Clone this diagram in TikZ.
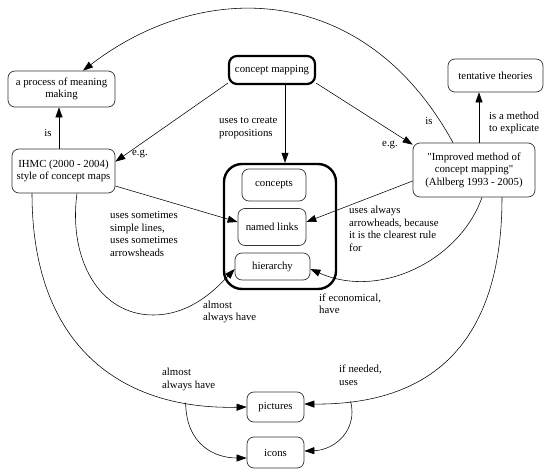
\documentclass[tikz,border=0pt]{standalone}
\usepackage{fontspec}
\setmainfont{Liberation Serif}
\newfontfamily\plainq{Liberation Serif}
\usetikzlibrary{arrows.meta}
\begin{document}
\begin{tikzpicture}[x=1pt,y=-1pt,
  every node/.style={font=\fontsize{10.8}{12.5}\selectfont, inner sep=0pt},
  box/.style={draw=black!80, line width=0.7pt, rounded corners=7pt, align=center},
  thickbox/.style={draw=black, line width=2.2pt, rounded corners=8pt, align=center},
  lab/.style={align=left, anchor=west},
  arr/.style={draw=black, line width=0.55pt, -{Triangle[length=10pt,width=7pt]}},
  con/.style={draw=black, line width=0.55pt}]
\useasboundingbox (0,0) rectangle (552,476);
% nodes
\node[box, minimum width=107pt, minimum height=36pt] (proc) at (61.5,89) {a process of meaning\\making};
\node[thickbox, minimum width=86pt, minimum height=28pt] (cm) at (272,70) {concept mapping};
\node[box, minimum width=95pt, minimum height=33pt] (tent) at (495.5,75.5) {tentative theories};
\node[box, minimum width=103pt, minimum height=44pt] (ihmc) at (63.5,171) {IHMC (2000 - 2004)\\style of concept maps};
\node[box, minimum width=122pt, minimum height=54pt] (imp) at (474,170) {{\plainq"}Improved method of\\concept mapping{\plainq"}\\(Ahlberg 1993 - 2005)};
\node[draw=black, line width=2.4pt, rounded corners=18pt, minimum width=112pt, minimum height=125pt] (cont) at (280,226.5) {};
\node[box, minimum width=64pt, minimum height=32pt] (conc) at (274,185) {concepts};
\node[box, minimum width=68pt, minimum height=37pt] (nl) at (272,227) {named links};
\node[box, minimum width=75pt, minimum height=27pt] (hier) at (272.5,266.5) {hierarchy};
\node[box, minimum width=57pt, minimum height=30pt] (pic) at (275.5,407) {pictures};
\node[box, minimum width=57pt, minimum height=31pt] (icons) at (275.5,452.5) {icons};
% connectors
\draw[arr] ([xshift=13pt]cm.south) -- ([xshift=5pt]cont.north);
\draw[arr] ([yshift=2pt]cm.south west) -- ([yshift=-13pt]ihmc.north east);
\draw[arr] ([yshift=2pt]cm.south east) -- ([yshift=-2pt]imp.north west);
\draw[arr] ([xshift=-4.5pt]ihmc.north) -- ([xshift=-2.5pt]proc.south);
\draw[arr] ([xshift=5pt]imp.north) -- ([xshift=-16.5pt]tent.south);
\draw[arr] ([xshift=-21pt]imp.north) .. controls (364,-20) and (202,-21) .. ([xshift=21.5pt]proc.north);
\draw[arr] ([yshift=-15pt]ihmc.east) -- ([yshift=5pt]nl.west);
\draw[arr] ([yshift=-11pt]imp.west) -- ([yshift=5pt]nl.east);
\draw[arr] ([xshift=13.5pt]ihmc.south) .. controls (68,260) and (100,315) .. (153,315)
   .. controls (190,315) and (215,290) .. ([yshift=-2.5pt]hier.west);
\draw[arr] ([xshift=-31.5pt]ihmc.south) .. controls (32,345) and (120,410) .. coordinate[pos=0.83] (br1) (pic.west);
\draw[arr] (br1) .. controls (186,445) and (215,458) .. ([yshift=-5.5pt]icons.west);
\draw[arr] ([xshift=8pt]imp.south) .. controls (460,260) and (380,300) .. ([yshift=-2.5pt]hier.east);
\draw[arr] ([xshift=28pt]imp.south) .. controls (502,345) and (430,405) .. coordinate[pos=0.87] (br2) ([yshift=3pt]pic.east);
\draw[arr] (br2) .. controls (358,430) and (335,450) .. ([yshift=1.5pt]icons.east);
% labels
\node[lab] (l1) at (219,128) {uses to create\\propositions};
\node (l2) at (140,154) {e.g.};
\node (l3) at (390,145) {e.g.};
\node (l4) at (48,133) {is};
\node (l5) at (429,121) {is};
\node[lab] (l6) at (489,123) {is a method\\to explicate};
\node[lab] (l7) at (110,234) {uses sometimes\\simple lines,\\uses sometimes\\arrowsheads};
\node[lab] (l8) at (349,229) {uses always\\arrowheads, because\\it is the clearest rule\\for};
\node[lab] (l9) at (203,312) {almost\\always have};
\node[lab] (l10) at (319,303.5) {if economical,\\have};
\node[lab] (l11) at (162,379.5) {almost\\always have};
\node[lab] (l12) at (339,375) {if needed,\\uses};
\end{tikzpicture}
\end{document}
